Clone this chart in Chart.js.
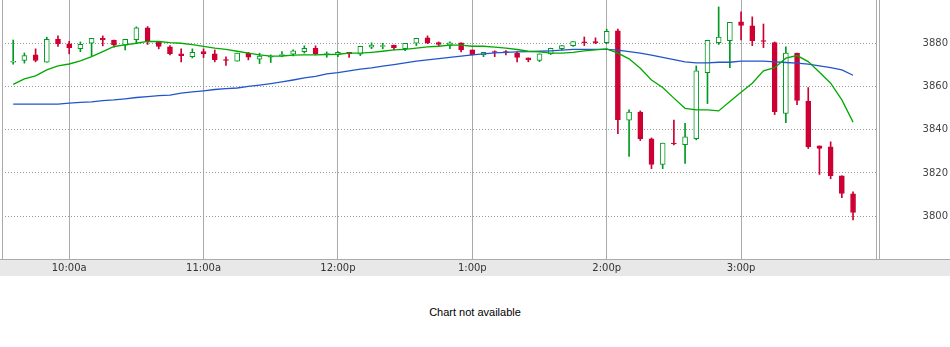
<!DOCTYPE html>
<html>
<head>
<meta charset="utf-8">
<title>Intraday chart</title>
<script src="https://cdn.jsdelivr.net/npm/chart.js@4.4.1/dist/chart.umd.min.js"></script>
<style>
  body { margin: 0; background: #fff; }
  #wrap { position: relative; width: 950px; height: 347px; }
  #chartBox { position: absolute; left: 0; top: 0; width: 950px; height: 276px; }
  #note { position: absolute; left: 0; top: 306px; width: 950px; text-align: center;
          font: 11px "Liberation Sans", Arial, sans-serif; line-height: 13px; color: #000; }
</style>
</head>
<body>
<div id="wrap">
  <div id="chartBox"><canvas id="mycanvas"></canvas></div>
  <div id="note">Chart not available</div>
</div>
<script>
// 5 minute bars, 9:35 .. 15:50
var opens = [3871.2,3872.1,3874.6,3871.2,3881.8,3879.7,3877.5,3880.0,3882.3,3881.5,
  3879.1,3881.7,3887.1,3880.8,3878.3,3875.1,3873.8,3876.1,3875.1,3872.3,
  3871.7,3875.4,3872.6,3873.5,3874.3,3874.9,3876.1,3877.7,3874.8,3874.6,
  3875.8,3874.9,3878.2,3878.5,3879.2,3877.5,3880.0,3882.5,3880.3,3879.1,
  3880.2,3876.9,3874.6,3876.1,3876.0,3875.5,3873.2,3872.1,3875.1,3877.5,
  3878.9,3880.6,3880.6,3880.3,3885.7,3844.4,3848.2,3835.8,3823.9,3833.8,
  3833.1,3835.9,3866.4,3880.3,3881.2,3889.9,3888.0,3881.1,3880.3,3847.5,
  3875.5,3853.3,3832.5,3832.1,3818.7,3810.3];

var closes = [3871.2,3874.3,3872.0,3881.8,3879.8,3878.0,3879.5,3882.3,3881.5,3879.2,
  3881.8,3887.1,3880.9,3878.5,3875.2,3874.3,3875.8,3875.2,3872.4,3872.0,
  3875.5,3873.5,3874.1,3873.8,3874.6,3876.5,3877.7,3875.2,3875.1,3875.8,
  3875.1,3878.6,3879.2,3878.8,3878.0,3880.0,3882.3,3880.3,3879.4,3880.2,
  3876.9,3874.6,3875.8,3875.7,3875.7,3873.4,3872.3,3875.1,3877.7,3878.9,
  3880.8,3880.2,3880.3,3885.5,3844.7,3848.1,3835.9,3823.9,3833.8,3833.4,
  3836.7,3867.2,3881.4,3882.8,3889.7,3888.2,3881.2,3880.8,3848.4,3875.4,
  3853.5,3832.2,3831.3,3818.8,3810.5,3801.7];

var highs = [3881.5,3875.5,3877.4,3882.8,3883.4,3880.9,3880.6,3882.3,3883.4,3881.5,
  3881.8,3887.6,3887.7,3880.8,3878.9,3877.4,3877.4,3877.4,3876.9,3873.7,
  3875.5,3875.8,3875.4,3874.6,3876.1,3876.9,3878.8,3878.8,3876.0,3876.1,
  3875.8,3878.6,3880.2,3880.0,3879.2,3880.0,3882.3,3883.4,3880.6,3880.6,
  3880.2,3876.9,3875.8,3876.5,3876.6,3876.1,3873.2,3875.1,3877.7,3878.9,
  3880.8,3882.9,3882.5,3886.5,3886.6,3849.2,3848.7,3836.2,3833.8,3844.5,
  3843.0,3869.5,3881.4,3896.8,3889.7,3894.5,3892.2,3888.9,3880.6,3878.3,
  3875.5,3859.5,3832.5,3834.4,3818.7,3811.3];

var lows = [3870.3,3870.8,3871.4,3871.2,3878.5,3875.1,3876.1,3874.1,3878.8,3878.2,
  3876.9,3880.0,3879.4,3877.4,3874.6,3871.4,3873.2,3873.4,3871.4,3869.7,
  3871.7,3872.3,3870.6,3871.1,3873.8,3874.1,3875.4,3874.6,3873.5,3873.8,
  3873.4,3874.3,3877.5,3877.4,3876.9,3876.6,3878.9,3879.8,3878.9,3877.5,
  3876.0,3874.6,3873.8,3873.8,3874.6,3871.4,3871.4,3871.5,3874.8,3876.9,
  3878.5,3878.9,3879.8,3879.8,3838.2,3827.6,3835.0,3822.0,3822.0,3833.0,
  3824.4,3835.3,3852.1,3879.4,3868.7,3881.5,3878.9,3878.0,3847.0,3843.3,
  3851.6,3831.3,3819.3,3817.3,3808.6,3798.3];

// moving averages
var maFast = [3861.0,3863.5,3864.9,3867.7,3869.5,3870.4,3871.8,3873.8,3876.1,3878.5,
  3879.2,3880.0,3880.9,3880.8,3880.3,3880.0,3879.4,3878.5,3877.7,3877.2,
  3876.3,3875.4,3874.6,3874.0,3874.1,3874.5,3874.6,3874.6,3874.8,3874.9,
  3875.4,3875.4,3875.8,3876.3,3876.9,3877.2,3877.7,3878.3,3878.6,3879.1,
  3879.1,3878.6,3878.6,3878.2,3877.7,3877.1,3876.3,3876.0,3875.4,3875.4,
  3875.8,3876.5,3876.9,3877.4,3875.4,3872.8,3868.4,3863.0,3859.5,3854.6,
  3849.9,3849.2,3849.2,3848.7,3853.0,3857.3,3861.5,3867.2,3868.7,3873.1,
  3874.3,3871.5,3866.6,3861.5,3853.8,3843.5];

var maSlow = [3851.8,3851.8,3851.8,3851.8,3851.8,3852.3,3852.6,3852.9,3853.5,3853.8,
  3854.3,3854.9,3855.3,3855.8,3856.0,3856.9,3857.5,3858.0,3858.6,3859.0,
  3859.3,3860.0,3860.6,3861.3,3862.1,3863.0,3864.0,3864.7,3865.8,3866.4,
  3867.2,3868.0,3868.6,3869.4,3870.1,3870.9,3871.7,3872.3,3872.9,3873.5,
  3874.0,3874.6,3875.1,3875.5,3875.8,3876.0,3876.1,3876.3,3876.5,3876.8,
  3877.2,3877.2,3877.2,3877.2,3876.8,3876.1,3875.4,3874.5,3873.5,3872.4,
  3871.4,3870.9,3870.9,3871.2,3871.2,3871.7,3871.7,3871.7,3871.4,3871.1,
  3870.8,3870.3,3869.5,3868.7,3867.7,3865.2];

// axis labels (bar index of each hour)
var timeTicks = [5, 17, 29, 41, 53, 65];
var timeLabels = ["10:00a", "11:00a", "12:00p", "1:00p", "2:00p", "3:00p"];
var priceTicks = [3800, 3820, 3840, 3860, 3880];

var upColor = "#009922";
var downColor = "#cc0033";

var wickData = [], bodyData = [], wickColors = [], bodyFill = [], bodyLine = [];
var fastData = [], slowData = [];
for (var i = 0; i < opens.length; i++) {
  var up = closes[i] >= opens[i];
  wickData.push({x: i, y: [lows[i], highs[i]]});
  bodyData.push({x: i, y: [opens[i], closes[i]]});
  wickColors.push(up ? upColor : downColor);
  bodyFill.push(up ? "#ffffff" : downColor);
  bodyLine.push(up ? upColor : downColor);
  fastData.push({x: i, y: maFast[i]});
  slowData.push({x: i, y: maSlow[i]});
}

// grey time band + frame lines
var framePlugin = {
  id: "frame",
  beforeDraw: function(chart) {
    var c = chart.ctx, a = chart.chartArea;
    c.save();
    c.fillStyle = "#e8e8e8";
    c.fillRect(0, a.bottom, chart.width, chart.height - a.bottom);
    c.restore();
  },
  afterDraw: function(chart) {
    var c = chart.ctx, a = chart.chartArea;
    c.save();
    c.strokeStyle = "#aaaaaa";
    c.lineWidth = 1;
    c.beginPath();
    c.moveTo(0, a.bottom + 0.5); c.lineTo(chart.width, a.bottom + 0.5);
    c.moveTo(a.left + 0.5, 0); c.lineTo(a.left + 0.5, a.bottom);
    c.moveTo(a.right + 0.5, 0); c.lineTo(a.right + 0.5, a.bottom);
    c.moveTo(a.right + 3.5, 0); c.lineTo(a.right + 3.5, a.bottom);
    c.stroke();
    c.restore();
  }
};

var ctx = document.getElementById("mycanvas");
var candleChart = new Chart(ctx, {
  type: "bar",
  data: {
    datasets: [
      {
        type: "line", data: fastData, order: 0,
        borderColor: "#00aa00", borderWidth: 1.3, pointRadius: 0, tension: 0
      },
      {
        type: "line", data: slowData, order: 0,
        borderColor: "#2255cc", borderWidth: 1.3, pointRadius: 0, tension: 0
      },
      {
        data: bodyData, order: 1, grouped: false, barThickness: 5, minBarLength: 1,
        backgroundColor: bodyFill, borderColor: bodyLine, borderWidth: 1, borderSkipped: false
      },
      {
        data: wickData, order: 2, grouped: false, barThickness: 1,
        backgroundColor: wickColors, borderWidth: 0
      }
    ]
  },
  options: {
    responsive: true,
    maintainAspectRatio: false,
    animation: false,
    layout: { padding: { left: 2, right: 2, top: 0, bottom: 0 } },
    plugins: { legend: { display: false }, tooltip: { enabled: false } },
    scales: {
      x: {
        type: "linear", min: -1, max: 77.05, offset: false,
        afterBuildTicks: function(scale) {
          scale.ticks = timeTicks.map(function(v) { return {value: v}; });
        },
        afterFit: function(scale) {
          scale.height = 17;
          scale.paddingLeft = 0;
          scale.paddingRight = 0;
        },
        grid: { color: "#aaaaaa", lineWidth: 1, drawTicks: false, offset: false },
        border: { display: false },
        ticks: {
          autoSkip: false, maxRotation: 0, padding: 3, color: "#333333",
          font: { family: "DejaVu Sans", size: 10 },
          callback: function(v) { return timeLabels[timeTicks.indexOf(v)]; }
        }
      },
      y: {
        position: "right", min: 3780.2, max: 3900,
        afterBuildTicks: function(scale) {
          scale.ticks = priceTicks.map(function(v) { return {value: v}; });
        },
        afterFit: function(scale) {
          scale.width = 72;
          scale.paddingTop = 0;
          scale.paddingBottom = 0;
        },
        grid: { color: "#999999", lineWidth: 1, drawTicks: false },
        border: { display: false, dash: [1, 2] },
        ticks: {
          crossAlign: "far", color: "#444444",
          font: { family: "DejaVu Sans", size: 10 },
          callback: function(v) { return v; }
        }
      }
    }
  },
  plugins: [framePlugin]
});
</script>
</body>
</html>
